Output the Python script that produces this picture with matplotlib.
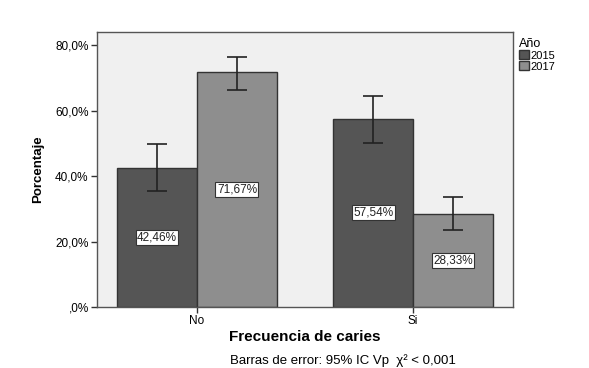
import matplotlib.pyplot as plt
import numpy as np

plt.rcParams['font.family'] = ['Liberation Sans', 'DejaVu Sans']

# data
categories = ['No', 'Si']
years = ['2015', '2017']
pct_2015 = [42.46, 57.54]
pct_2017 = [71.67, 28.33]
ci_low_2015 = [35.4, 50.2]
ci_high_2015 = [49.8, 64.5]
ci_low_2017 = [66.4, 23.5]
ci_high_2017 = [76.5, 33.6]

fig = plt.figure(figsize=(5.89, 3.68), dpi=100)
ax = fig.add_axes([0.1647, 0.1658, 0.7063, 0.7473])
ax.set_facecolor('#f0f0f0')

x = np.arange(len(categories))
w = 0.37
series = [
    (pct_2015, ci_low_2015, ci_high_2015, '#555555', -w / 2),
    (pct_2017, ci_low_2017, ci_high_2017, '#8e8e8e', w / 2),
]
for (vals, lo, hi, col, off), yr in zip(series, years):
    vals = np.array(vals)
    yerr = [vals - np.array(lo), np.array(hi) - vals]
    ax.bar(x + off, vals, w, color=col, edgecolor='#333333', linewidth=1.0,
           label=yr, zorder=2)
    ax.errorbar(x + off, vals, yerr=yerr, fmt='none', ecolor='#222222',
                elinewidth=1.2, capsize=7, capthick=1.2, zorder=3)
    for xi, v in zip(x + off, vals):
        ax.text(xi, v / 2, f'{v:.2f}%'.replace('.', ','), ha='center',
                va='center', fontsize=8.5, color='#222222', zorder=4,
                bbox=dict(boxstyle='square,pad=0.12', fc='white',
                          ec='#333333', lw=0.8))

ax.set_xlim(-0.463, 1.463)
ax.set_ylim(0, 84)
ax.set_yticks([0, 20, 40, 60, 80])
ax.set_yticklabels([',0%', '20,0%', '40,0%', '60,0%', '80,0%'], fontsize=8.5)
ax.set_xticks(x)
ax.set_xticklabels(categories, fontsize=8.5)
ax.tick_params(axis='both', length=4, width=1, color='#333333', pad=2)
for s in ax.spines.values():
    s.set_color('#555555')
    s.set_linewidth(1.0)

ax.set_ylabel('Porcentaje', fontsize=9.5, fontweight='bold', labelpad=8)
fig.text(0.518, 0.085, 'Frecuencia de caries', ha='center', va='center',
         fontsize=11, fontweight='bold')
fig.text(0.5823, 0.019, 'Barras de error: 95% IC Vp  χ² < 0,001',
         ha='center', va='center', fontsize=9.5)

leg = ax.legend(title='Año', loc='upper left', bbox_to_anchor=(1.0, 1.0),
                frameon=False, fontsize=8, title_fontsize=9,
                handlelength=0.9, handleheight=0.9, handletextpad=0.2,
                labelspacing=0.05, borderpad=0.2, borderaxespad=0.3)
leg._legend_box.align = 'left'

fig.savefig('out.png', dpi=100)
